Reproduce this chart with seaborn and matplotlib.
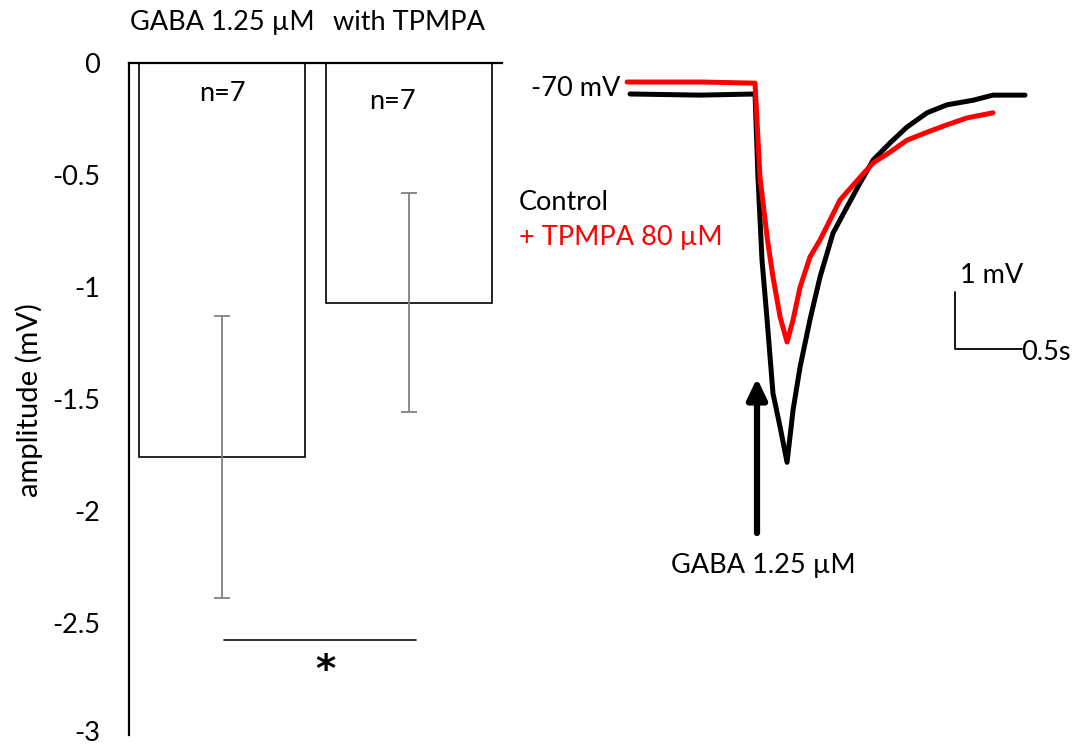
import numpy as np
import pandas as pd
import matplotlib
matplotlib.use("Agg")
import matplotlib.pyplot as plt
import matplotlib.transforms as mtransforms
import seaborn as sns

# ---------------- data ----------------
categories = ["GABA 1.25 \u00b5M", "with TPMPA"]
amplitude_mean = [-1.76, -1.07]
amplitude_err = [0.63, 0.49]
n_labels = ["n=7", "n=7"]
n_label_y = [-0.134, -0.170]
yticks = [0, -0.5, -1, -1.5, -2, -2.5, -3]
ytick_labels = ["0", "-0.5", "-1", "-1.5", "-2", "-2.5", "-3"]

# traces: time (s, 0 = GABA onset), voltage (mV relative to -70 mV baseline)
control_t = [-0.933, -0.41, 0.0, 0.022, 0.052, 0.090, 0.134, 0.187, 0.239, 0.284,
             0.336, 0.410, 0.485, 0.582, 0.687, 0.784, 0.881, 1.007, 1.134, 1.284,
             1.433, 1.627, 1.776, 2.015]
control_v = [0.0, -0.02, 0.0, -1.46, -2.91, -3.96, -5.25, -5.84, -6.46, -5.54,
             -4.79, -3.96, -3.21, -2.44, -1.98, -1.56, -1.16, -0.86, -0.58, -0.33,
             -0.19, -0.11, -0.02, -0.02]
tpmpa_t = [-0.955, -0.41, 0.0, 0.037, 0.090, 0.134, 0.187, 0.239, 0.284, 0.336,
           0.410, 0.485, 0.560, 0.634, 0.784, 0.881, 1.007, 1.134, 1.284, 1.433,
           1.582, 1.776]
tpmpa_v = [0.21, 0.21, 0.19, -1.46, -2.51, -3.21, -3.91, -4.35, -3.96, -3.39,
           -2.86, -2.56, -2.21, -1.86, -1.46, -1.21, -1.02, -0.81, -0.67, -0.54,
           -0.42, -0.33]

W, H = 1090, 747
def fx(x): return x / W
def fy(y): return 1 - y / H

sns.set_theme(style="white")
plt.rcParams["font.family"] = ["Lato", "DejaVu Sans"]
plt.rcParams["text.color"] = "black"
plt.rcParams["axes.labelcolor"] = "black"
plt.rcParams["xtick.color"] = "black"
plt.rcParams["ytick.color"] = "black"
FS = 19.5

fig = plt.figure(figsize=(W / 100, H / 100), dpi=100)

# ---------------- bar chart ----------------
ax = fig.add_axes([fx(129), fy(735), fx(502) - fx(129), fy(63) - fy(735)])
df = pd.DataFrame({"cond": categories, "amp": amplitude_mean})
sns.barplot(data=df, x="cond", y="amp", ax=ax, color="white", edgecolor="black",
            linewidth=1.2, width=0.89, errorbar=None, saturation=1)
ax.errorbar(x=np.arange(len(categories)), y=amplitude_mean, yerr=amplitude_err,
            fmt="none", ecolor="#808080", elinewidth=1.3, capsize=6, capthick=1.3)
for i, (lab, yy) in enumerate(zip(n_labels, n_label_y)):
    ax.text(i - (0.0 if i == 0 else 0.09), yy, lab, ha="center", va="center",
            fontsize=FS, color="black")

ax.set_xlim(-0.5, 1.5)
ax.set_ylim(-3, 0)
ax.set_yticks(yticks)
ax.set_yticklabels(ytick_labels, fontsize=FS, color="black")
ax.tick_params(axis="y", length=0, pad=21, labelcolor="black")
ax.xaxis.tick_top()
ax.set_xticks(range(len(categories)))
ax.set_xticklabels(categories, fontsize=FS, color="black")
ax.tick_params(axis="x", length=0, pad=20, labelcolor="black")
ax.set_xlabel("")
ax.set_ylabel("")
for s in ["right", "bottom"]:
    ax.spines[s].set_visible(False)
ax.spines["left"].set_linewidth(1.6)
ax.spines["top"].set_linewidth(1.6)
ax.spines["left"].set_color("black")
ax.spines["top"].set_color("black")

# keep the lowest tick label inside the canvas
last = ax.get_yticklabels()[-1]
last.set_transform(last.get_transform() +
                   mtransforms.ScaledTranslation(0, 3 / 72, fig.dpi_scale_trans))

# significance bar
ax.plot([0.01, 1.04], [-2.576, -2.576], color="#222222", lw=1.3, clip_on=False)
ax.text(0.554, -2.715, "*", ha="center", va="center", fontsize=28, fontweight="bold",
        family="DejaVu Sans", color="black")

fig.text(fx(29), fy(400), "amplitude (mV)", rotation=90, ha="center", va="center",
         fontsize=21, color="black")

# ---------------- traces ----------------
ax2 = fig.add_axes([fx(600), fy(480), fx(1060) - fx(600), fy(60) - fy(480)])
tr_c = pd.DataFrame({"t": control_t, "v": control_v})
tr_t = pd.DataFrame({"t": tpmpa_t, "v": tpmpa_v})
sns.lineplot(data=tr_c, x="t", y="v", ax=ax2, color="black", lw=3.6, sort=False)
sns.lineplot(data=tr_t, x="t", y="v", ax=ax2, color="#ff0000", lw=3.6, sort=False)
ax2.set_xlim(-1.157, 2.276)
ax2.set_ylim(-6.77, 0.596)
ax2.axis("off")

# scale bar (1 mV, 0.5 s)
sb_t0, sb_v0 = 1.493, -4.47
ax2.plot([sb_t0, sb_t0, sb_t0 + 0.5], [sb_v0 + 1.0, sb_v0, sb_v0], color="black", lw=1.3)
fig.text(fx(960), fy(276), "1 mV", ha="left", va="center", fontsize=FS, color="black")
fig.text(fx(1021), fy(353), "0.5s", ha="left", va="center", fontsize=FS, color="black")

fig.text(fx(620), fy(89), "-70 mV", ha="right", va="center", fontsize=FS, color="black")
fig.text(fx(519), fy(202), "Control", ha="left", va="center", fontsize=FS, color="black")
fig.text(fx(519), fy(238), "+ TPMPA 80 \u00b5M", ha="left", va="center", fontsize=FS, color="#ff0000")

# GABA application arrow
fig.add_artist(matplotlib.patches.FancyArrowPatch(
    (fx(757), fy(533)), (fx(757), fy(378)), transform=fig.transFigure,
    arrowstyle="-|>,head_length=0.95,head_width=0.45", mutation_scale=13,
    color="black", lw=4.5, shrinkA=0, shrinkB=0))
fig.text(fx(763), fy(565), "GABA 1.25 \u00b5M", ha="center", va="center", fontsize=FS, color="black")

fig.savefig("out.png", dpi=100)
